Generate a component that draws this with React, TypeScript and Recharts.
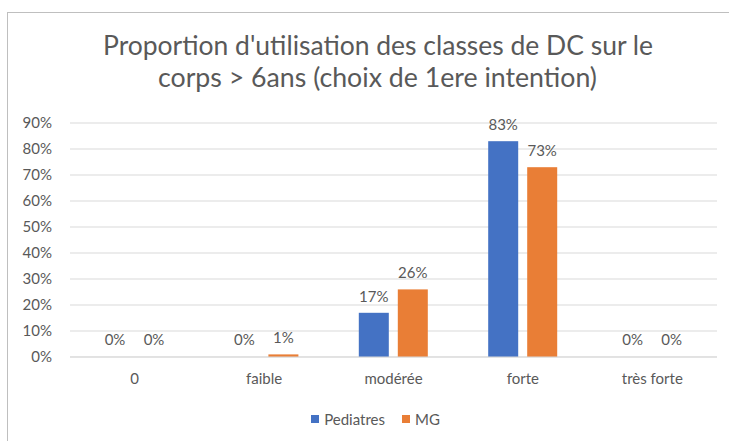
import React from "react";
import { BarChart, Bar, XAxis, YAxis, CartesianGrid, LabelList } from "recharts";

const categories = ["0", "faible", "modérée", "forte", "très forte"];
const pediatres = [0, 0, 0.17, 0.83, 0];
const mg = [0, 0.01, 0.26, 0.73, 0];
const yTicks = [0, 0.1, 0.2, 0.3, 0.4, 0.5, 0.6, 0.7, 0.8, 0.9];
const titleLines = ["Proportion d'utilisation des classes de DC sur le", "corps > 6ans (choix de 1ere intention)"];
const seriesNames = ["Pediatres", "MG"];

const BLUE = "#4472C4";
const ORANGE = "#E97E36";
const TEXT = "#595959";
const FONT = "Lato, 'Open Sans', sans-serif";

const data = categories.map((c, i) => ({ cat: c, Pediatres: pediatres[i], MG: mg[i] }));

const pct = (v: number) => `${Math.round(v * 100)}%`;

const BarShape = (props: any) => {
  const { x, y, width, height, fill } = props;
  if (!(height > 1.5)) return null;
  return <rect x={x} y={y} width={width} height={height} fill={fill} />;
};

export default function App() {
  return (
    <div style={{ position: "fixed", left: 0, top: 0, width: 729, height: 441, overflow: "hidden", background: "#fff" }}>
      <div style={{ position: "absolute", left: 7, top: 12, width: 800, height: 600, border: "1px solid #bfbfbf", boxSizing: "border-box" }} />
      <svg width={729} height={100} style={{ position: "absolute", left: 0, top: 0 }}>
        <text x={378} y={55} textAnchor="middle" fontFamily={FONT} fontSize={26} fill={TEXT} textLength={550} lengthAdjust="spacingAndGlyphs">
          {titleLines[0]}
        </text>
        <text x={377.5} y={87} textAnchor="middle" fontFamily={FONT} fontSize={26} fill={TEXT} textLength={439} lengthAdjust="spacingAndGlyphs">
          {titleLines[1]}
        </text>
      </svg>
      <div style={{ position: "absolute", left: 0, top: 0 }}>
        <BarChart
          width={729}
          height={441}
          data={data}
          margin={{ top: 123, right: 12, bottom: 54, left: 10 }}
          barSize={30}
          barGap={9}
        >
          <CartesianGrid vertical={false} stroke="#d9d9d9" />
          <XAxis
            dataKey="cat"
            axisLine={{ stroke: "#d9d9d9" }}
            tickLine={false}
            tickMargin={10}
            height={30}
            tick={{ fill: TEXT, fontSize: 15, fontFamily: FONT }}
          />
          <YAxis
            domain={[0, 0.9]}
            ticks={yTicks}
            tickFormatter={pct}
            axisLine={false}
            tickLine={false}
            tickMargin={12}
            width={60}
            tick={{ fill: TEXT, fontSize: 15, fontFamily: FONT }}
          />
          <Bar dataKey="Pediatres" fill={BLUE} isAnimationActive={false} minPointSize={1} shape={BarShape}>
            <LabelList dataKey="Pediatres" position="top" offset={11} formatter={pct} fill={TEXT} fontSize={15} fontFamily={FONT} />
          </Bar>
          <Bar dataKey="MG" fill={ORANGE} isAnimationActive={false} minPointSize={1} shape={BarShape}>
            <LabelList dataKey="MG" position="top" offset={11} formatter={pct} fill={TEXT} fontSize={15} fontFamily={FONT} />
          </Bar>
        </BarChart>
      </div>
      <div
        style={{
          position: "absolute",
          top: 410,
          left: 0,
          width: 729,
          display: "flex",
          justifyContent: "center",
          fontFamily: FONT,
          fontSize: 15,
          color: TEXT,
        }}
      >
        <div style={{ display: "flex", alignItems: "center", marginLeft: 22 }}>
          {seriesNames.map((n, i) => (
            <div key={n} style={{ display: "flex", alignItems: "center", marginRight: i === 0 ? 17 : 0 }}>
              <span style={{ width: 8, height: 8, background: i === 0 ? BLUE : ORANGE, display: "inline-block", marginRight: 5 }} />
              <span>{n}</span>
            </div>
          ))}
        </div>
      </div>
    </div>
  );
}
